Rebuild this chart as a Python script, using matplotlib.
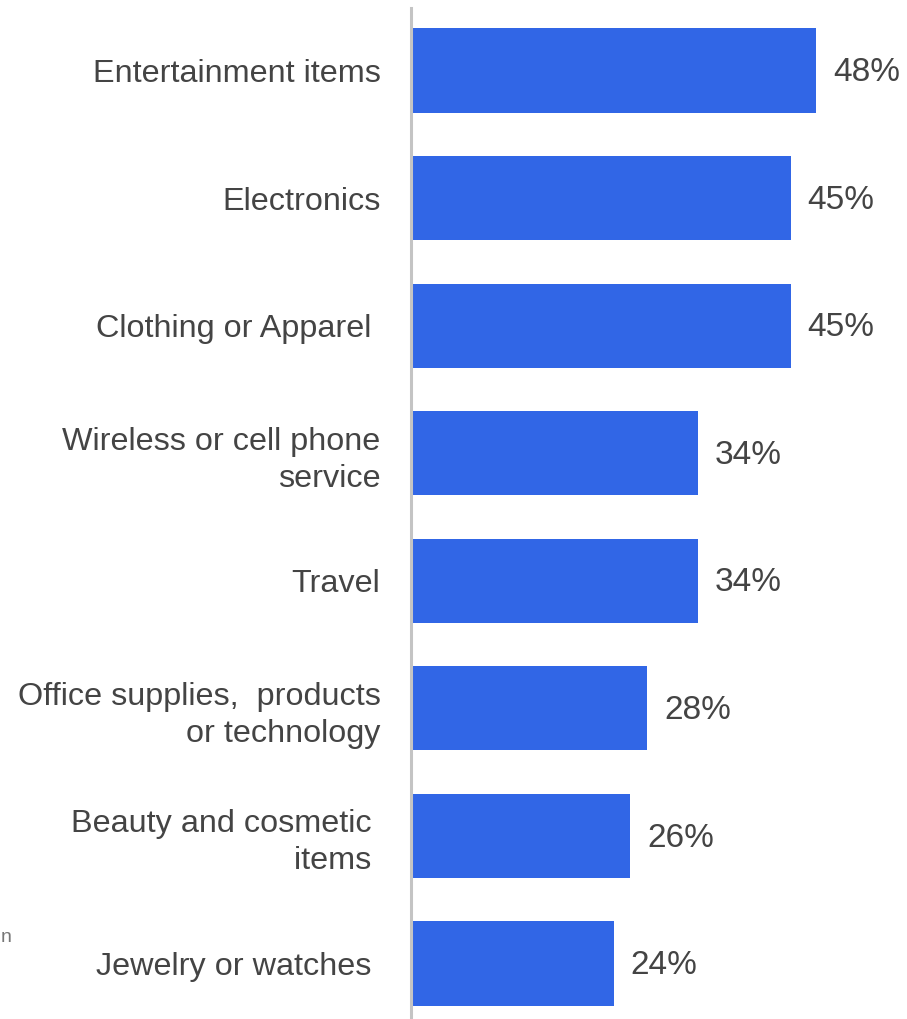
import matplotlib
matplotlib.use("Agg")
import matplotlib.pyplot as plt

categories = [
    "Entertainment items",
    "Electronics",
    "Clothing or Apparel ",
    "Wireless or cell phone\nservice",
    "Travel",
    "Office supplies,  products\nor technology",
    "Beauty and cosmetic \nitems ",
    "Jewelry or watches ",
]
values = [48, 45, 45, 34, 34, 28, 26, 24]
value_labels = ["48%", "45%", "45%", "34%", "34%", "28%", "26%", "24%"]

BAR = "#3166E6"
TXT = "#444444"
plt.rcParams["font.family"] = ["Liberation Sans", "DejaVu Sans"]

W, H = 907, 1019
fig = plt.figure(figsize=(W / 100, H / 100), dpi=100)
ax_left = 411 / W
ax = fig.add_axes([ax_left, 0.0, 1 - ax_left, (H - 8) / H])

ypos = list(range(len(categories)))
ax.barh(ypos, values, height=0.66, color=BAR, left=0)

ax.set_xlim(0, (W - 411) / 8.44)
ax.set_ylim(7.435, -0.49)

for s in ["top", "right", "bottom"]:
    ax.spines[s].set_visible(False)
ax.spines["left"].set_color("#C4C4C4")
ax.spines["left"].set_linewidth(2.2)

ax.set_xticks([])
ax.set_yticks(ypos)
ax.set_yticklabels(categories, fontsize=23.3, color=TXT, linespacing=1.3)
ax.tick_params(axis="y", length=0, pad=22)

for y, v, lab in zip(ypos, values, value_labels):
    ax.annotate(lab, xy=(v, y), xytext=(12, -1.5), textcoords="offset points",
                ha="left", va="center", fontsize=24, color=TXT)

# small character fragment at the left edge
fig.text(0.001, 1 - 937 / H, "n", fontsize=14, color="#777777", ha="left", va="center")

fig.savefig("out.png", dpi=100)
